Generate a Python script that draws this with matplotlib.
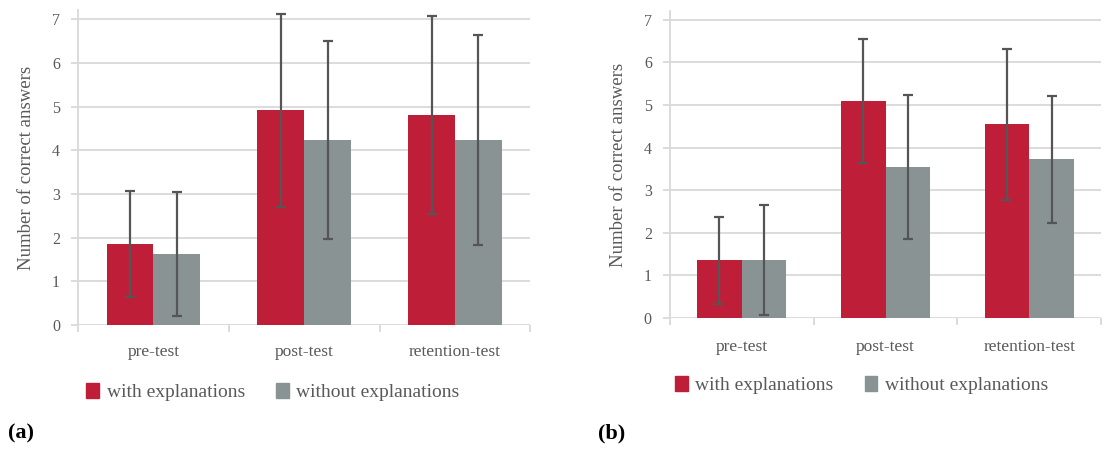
import numpy as np
import matplotlib
matplotlib.use("Agg")
import matplotlib.pyplot as plt
from matplotlib.patches import Patch

plt.rcParams['font.family'] = ['Liberation Serif', 'DejaVu Serif']

tests = ["pre-test", "post-test", "retention-test"]
series = ["with explanations", "without explanations"]

# panel (a)
a_with = [1.85, 4.91, 4.81]
a_with_sd = [1.21, 2.21, 2.26]
a_without = [1.62, 4.23, 4.23]
a_without_sd = [1.42, 2.26, 2.41]

# panel (b)
b_with = [1.36, 5.09, 4.54]
b_with_sd = [1.02, 1.45, 1.76]
b_without = [1.36, 3.54, 3.72]
b_without_sd = [1.29, 1.69, 1.49]

red = "#BE1E38"
grey = "#899394"
txt = "#595959"
gridc = "#D9D9D9"

fig = plt.figure(figsize=(11.09, 4.5), dpi=100)


def draw(ax, w, wsd, wo, wosd, pad):
    x = np.arange(len(tests))
    bw = 0.31
    err_kw = dict(ecolor="#555555", elinewidth=1.6, capsize=3.5, capthick=1.6)
    ax.bar(x - bw / 2, w, bw, color=red, yerr=wsd, error_kw=err_kw, zorder=3)
    ax.bar(x + bw / 2, wo, bw, color=grey, yerr=wosd, error_kw=err_kw, zorder=3)
    ax.set_ylim(0, 7.2)
    ax.set_xlim(-0.5, 2.5)
    ax.set_yticks(range(8))
    for v in range(8):
        ax.axhline(v, color=gridc, lw=1.3, zorder=1)
    ax.set_xticks(x)
    ax.set_xticklabels(tests)
    ax.set_xticks([-0.5, 0.5, 1.5, 2.5], minor=True)
    ax.tick_params(axis="x", which="major", length=0, pad=pad, labelsize=12.5, labelcolor=txt)
    ax.tick_params(axis="x", which="minor", length=5, color=gridc, width=1.3)
    ax.tick_params(axis="y", length=5, color=gridc, width=1.3, labelsize=11.5, labelcolor=txt, pad=8)
    for s in ["top", "right", "bottom"]:
        ax.spines[s].set_visible(False)
    ax.spines["left"].set_color(gridc)
    ax.spines["left"].set_linewidth(1.3)
    ax.set_ylabel("Number of correct answers", fontsize=13.5, color=txt, labelpad=12)


ax1 = fig.add_axes([0.0703, 0.2778, 0.408, 0.699])
draw(ax1, a_with, a_with_sd, a_without, a_without_sd, 14)
ax2 = fig.add_axes([0.604, 0.2933, 0.389, 0.682])
draw(ax2, b_with, b_with_sd, b_without, b_without_sd, 15)

handles = [Patch(color=red, label=series[0]), Patch(color=grey, label=series[1])]
for anchor in [(0.246, 0.129), (0.777, 0.144)]:
    leg = fig.legend(handles=handles, loc="center", bbox_to_anchor=anchor, ncol=2,
                     frameon=False, fontsize=14, handlelength=0.65, handleheight=0.8,
                     handletextpad=0.4, columnspacing=1.6)
    for t in leg.get_texts():
        t.set_color(txt)

fig.text(0.007, 0.025, "(a)", fontsize=16, fontweight="bold", color="black")
fig.text(0.539, 0.025, "(b)", fontsize=16, fontweight="bold", color="black")

fig.savefig("out.png", dpi=100)
